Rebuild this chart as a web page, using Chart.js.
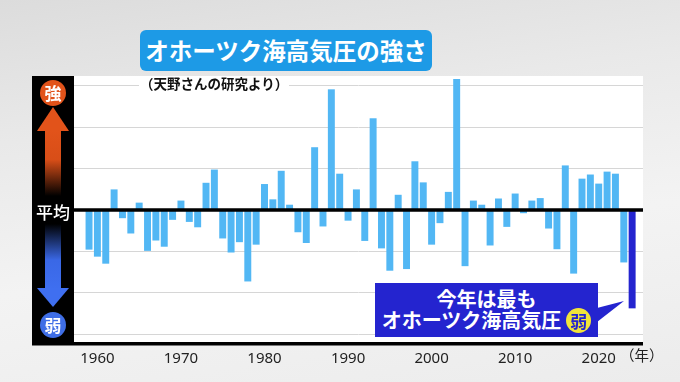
<!DOCTYPE html>
<html lang="ja">
<head>
<meta charset="utf-8">
<script src="https://cdn.jsdelivr.net/npm/chart.js@4/dist/chart.umd.min.js"></script>
<style>
  html, body { margin:0; padding:0; }
  body {
    width:680px; height:382px; overflow:hidden; position:relative;
    background: linear-gradient(172deg, #dcdcdc 0%, #e9e9e9 30%, #f3f3f3 62%, #ececec 100%);
    font-family: "Noto Sans CJK JP", "Noto Sans", sans-serif;
  }
  #chart { position:absolute; left:0; top:0; }
  .abs { position:absolute; }
  #band { left:32px; top:76px; width:42px; height:268px; background:#000; }
  #title {
    left:140px; top:30px; width:292px; height:41px; background:#1d9ae6; border-radius:6px;
    color:#fff; font-weight:700; font-size:23.5px; line-height:41px; text-align:center; white-space:nowrap;
  }
  #subtitle {
    left:139px; top:76px; background:#fff; color:#111; font-weight:700; font-size:13.5px; line-height:15px;
    padding:0 1px; white-space:nowrap;
  }
  #callout {
    left:375px; top:283px; width:223px; height:54px; background:#2424cf; color:#fff;
    font-weight:700; font-size:20px; line-height:21px; text-align:center; white-space:nowrap;
    padding-top:5px; box-sizing:border-box;
  }
  #weak2 {
    display:inline-block; width:25px; height:25px; border-radius:50%; background:#f2e43a; color:#2424cf;
    font-size:17px; line-height:25px; text-align:center; margin-left:5px; vertical-align:middle;
    position:relative; top:-2px;
  }
  .circ {
    width:26px; height:26px; border-radius:50%; color:#fff; font-weight:700; font-size:17px;
    line-height:26px; text-align:center;
  }
  #strong { left:40px; top:80px; background:#e2531a; }
  #weak { left:40px; top:312px; background:#3f6ee6; }
  #avg { left:32px; top:200px; width:42px; text-align:center; color:#fff; font-size:17px; line-height:24px; font-weight:500; }
  #nen { left:620px; top:345px; color:#222; font-size:14.5px; line-height:20px; white-space:nowrap; }
</style>
</head>
<body>
<div id="band" class="abs"></div>
<canvas id="chart" width="680" height="382"></canvas>
<svg class="abs" style="left:0;top:0" width="680" height="382">
  <defs>
    <linearGradient id="gUp" x1="0" y1="130" x2="0" y2="196" gradientUnits="userSpaceOnUse">
      <stop offset="0" stop-color="#e2531a"/>
      <stop offset="0.45" stop-color="#d84e18"/>
      <stop offset="1" stop-color="#000"/>
    </linearGradient>
    <linearGradient id="gDn" x1="0" y1="224" x2="0" y2="290" gradientUnits="userSpaceOnUse">
      <stop offset="0" stop-color="#000"/>
      <stop offset="0.55" stop-color="#3a68e6"/>
      <stop offset="1" stop-color="#3f6ff0"/>
    </linearGradient>
  </defs>
  <polygon points="53,107 69,131 37,131" fill="#e2531a"/>
  <rect x="45" y="130" width="16" height="66" fill="url(#gUp)"/>
  <rect x="45" y="224" width="16" height="65" fill="url(#gDn)"/>
  <polygon points="37,288 69,288 53,307" fill="#3f6ff0"/>
  <polygon points="597,308 624,301 597,322" fill="#2424cf"/>
</svg>
<div id="strong" class="abs circ">強</div>
<div id="weak" class="abs circ">弱</div>
<div id="avg" class="abs">平均</div>
<div id="title" class="abs">オホーツク海高気圧の強さ</div>
<div id="subtitle" class="abs">（天野さんの研究より）</div>
<div id="callout" class="abs">今年は最も<br>オホーツク海高気圧<span id="weak2">弱</span></div>
<div id="nen" class="abs">（年）</div>
<script>
const years = [
  1959,1960,1961,1962,1963,1964,1965,1966,1967,1968,
  1969,1970,1971,1972,1973,1974,1975,1976,1977,1978,
  1979,1980,1981,1982,1983,1984,1985,1986,1987,1988,
  1989,1990,1991,1992,1993,1994,1995,1996,1997,1998,
  1999,2000,2001,2002,2003,2004,2005,2006,2007,2008,
  2009,2010,2011,2012,2013,2014,2015,2016,2017,2018,
  2019,2020,2021,2022,2023,2024
];
const strengthIndex = [
  -0.95,-1.12,-1.29, 0.49,-0.19,-0.56, 0.17,-0.98,-0.73,-0.88,
  -0.23, 0.22,-0.28,-0.41, 0.65, 0.97,-0.68,-1.02,-0.77,-1.72,
  -0.83, 0.62, 0.25, 0.94, 0.12,-0.53,-0.79, 1.51,-0.39, 2.91,
   0.87,-0.25, 0.49,-0.74, 2.21,-0.92,-1.46, 0.36,-1.42, 1.17,
   0.66,-0.83,-0.31, 0.43, 3.16,-1.35, 0.22, 0.12,-0.85, 0.27,
  -0.40, 0.39,-0.07, 0.22, 0.28,-0.44,-0.94, 1.07,-1.53, 0.75,
   0.85, 0.63, 0.92, 0.87,-1.26,-2.37
];
const tickYears = [1960,1970,1980,1990,2000,2010,2020];
const latestYear = 2024;

const lightBlue = '#52b7f4';
const darkBlue = '#2424cf';

const plotBg = {
  id:'plotBg',
  beforeDraw(chart){
    const {ctx, chartArea:a} = chart;
    ctx.save(); ctx.fillStyle = '#fff';
    ctx.fillRect(a.left, a.top, a.right - a.left, a.bottom - a.top);
    ctx.restore();
  }
};
const axisLines = {
  id:'axisLines',
  afterDatasetsDraw(chart){
    const {ctx, chartArea:a, scales} = chart;
    const y = scales.y.getPixelForValue(0);
    ctx.save(); ctx.fillStyle = '#000';
    ctx.fillRect(a.left, y - 1.75, a.right - a.left, 3.5);
    ctx.fillRect(a.left - 42, a.bottom - 2, a.right - a.left + 42, 3.5);
    ctx.restore();
  }
};

new Chart(document.getElementById('chart'), {
  type:'bar',
  data:{
    datasets:[{
      data: years.map((y,i) => ({x:y, y:strengthIndex[i]})),
      backgroundColor: years.map(y => y === latestYear ? darkBlue : lightBlue),
      borderWidth:0,
      barThickness:6.3
    }]
  },
  options:{
    responsive:false, animation:false,
    layout:{padding:{left:74, right:37, top:76, bottom:0}},
    plugins:{legend:{display:false}, tooltip:{enabled:false}},
    scales:{
      x:{
        type:'linear', min:1957.2, max:2025.3, offset:false,
        afterBuildTicks: s => { s.ticks = tickYears.map(v => ({value:v})); },
        afterFit: s => { s.height = 38; },
        grid:{display:false, drawTicks:false},
        border:{display:false},
        ticks:{autoSkip:false, maxRotation:0, padding:6, color:'#222',
          font:{family:'"Noto Sans", sans-serif', size:15},
          callback: v => String(v)}
      },
      y:{
        min:-3.24, max:3.24,
        afterFit: s => { s.width = 0; },
        ticks:{display:false, stepSize:1, includeBounds:false},
        grid:{color:'#d6d6d6', lineWidth:1, drawTicks:false},
        border:{display:false}
      }
    }
  },
  plugins:[plotBg, axisLines]
});
</script>
</body>
</html>
